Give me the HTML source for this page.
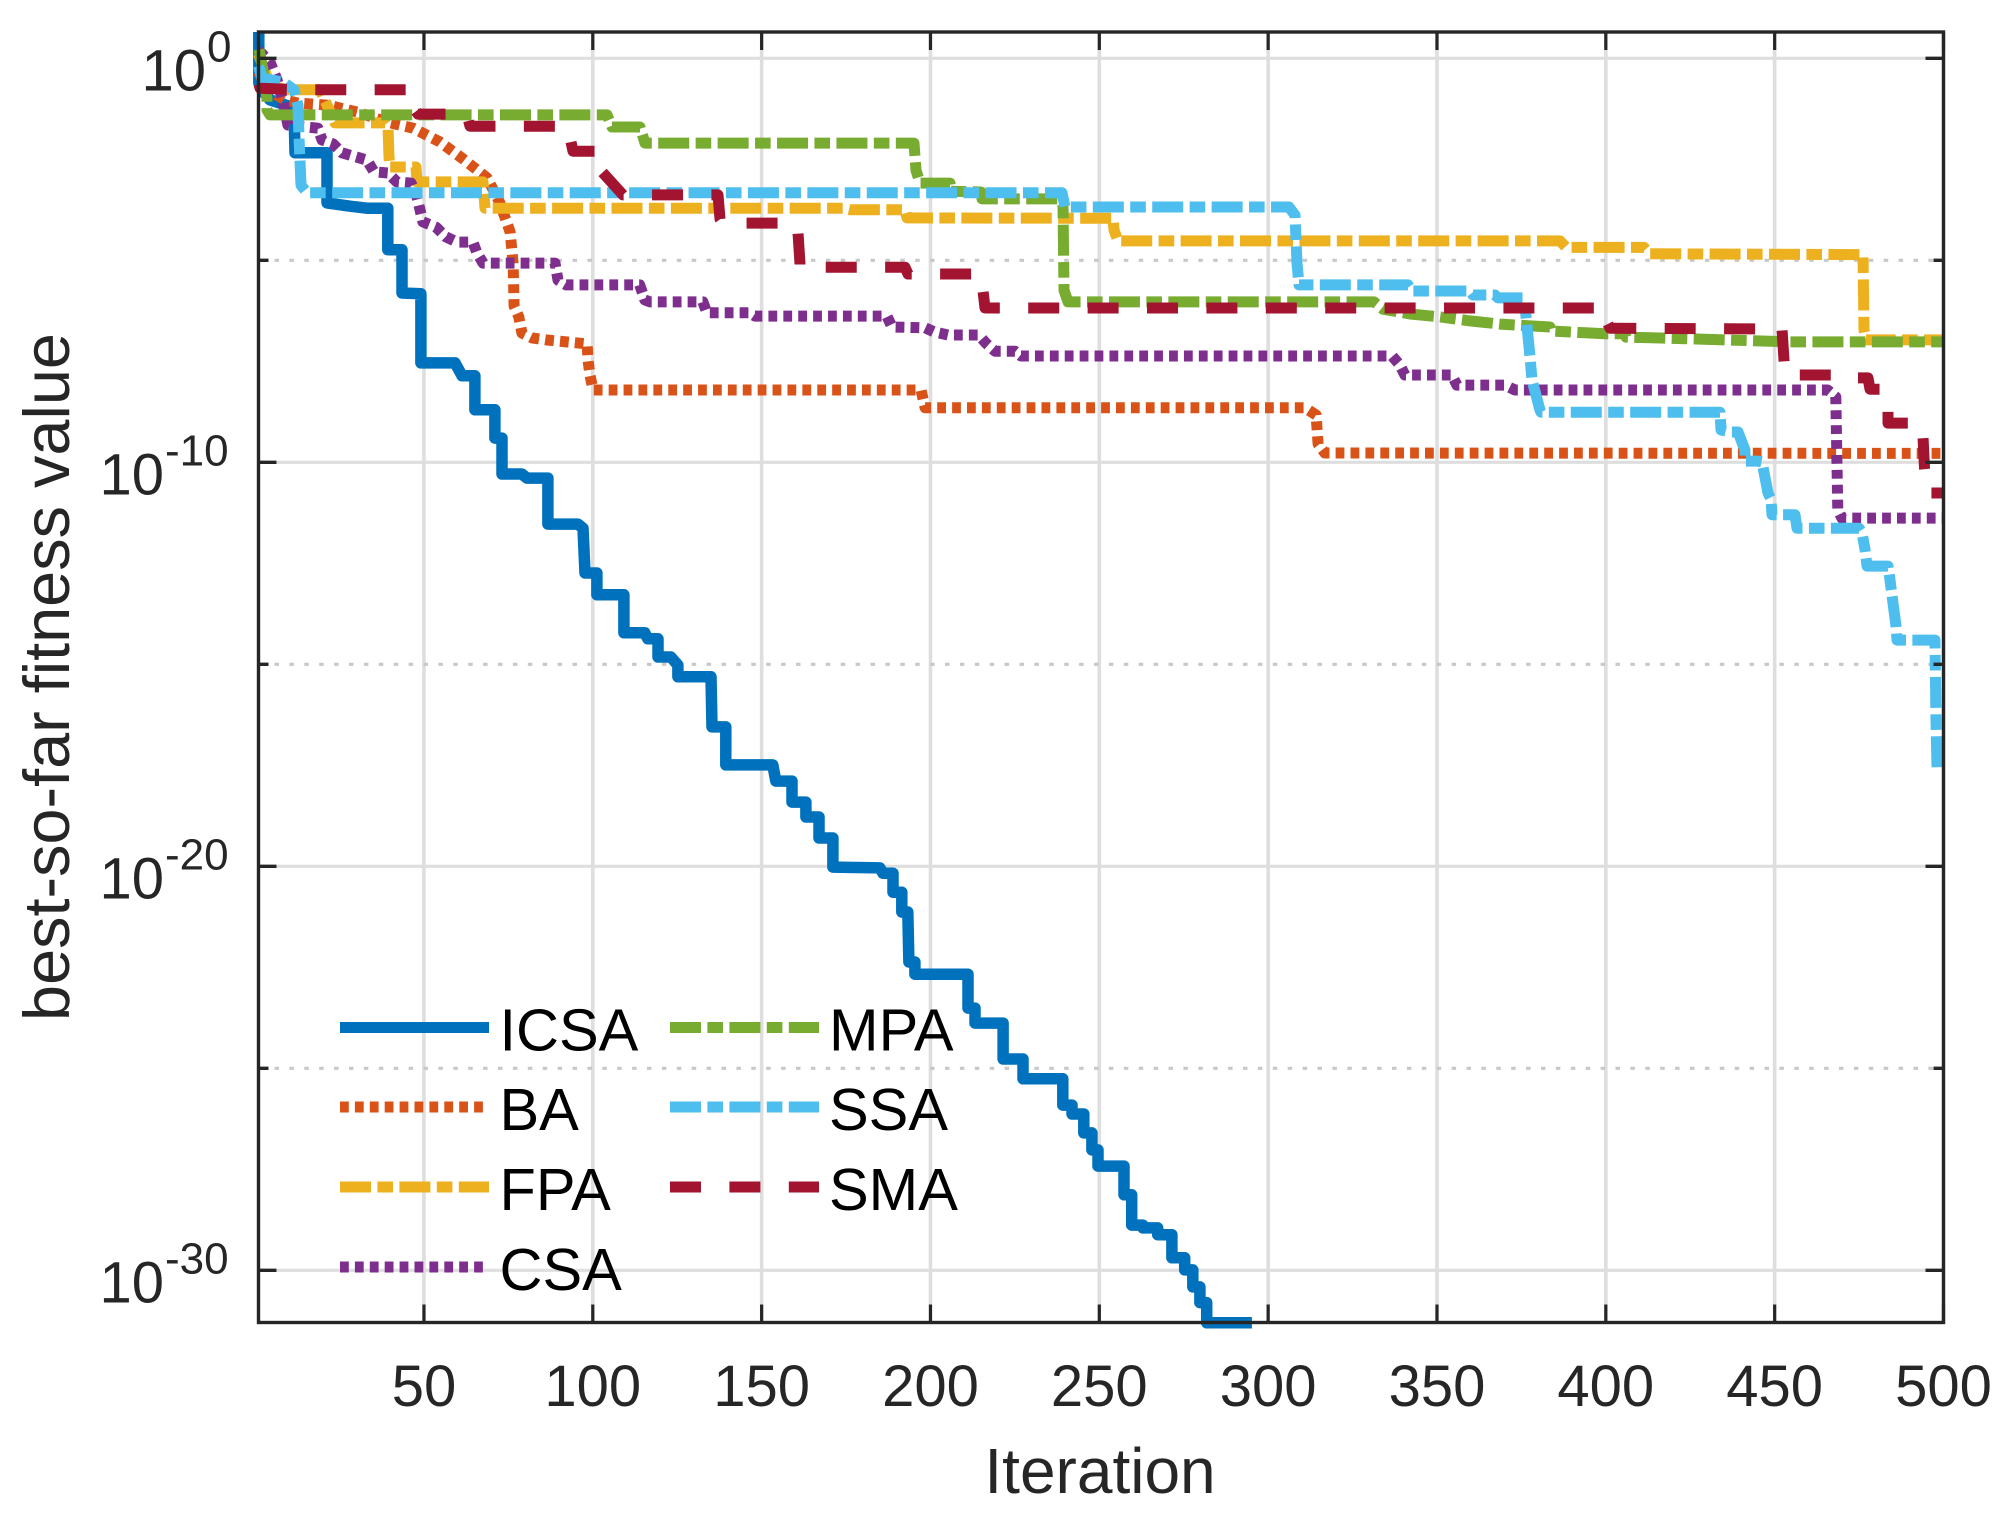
<!DOCTYPE html>
<html lang="en">
<head>
<meta charset="utf-8">
<title>Convergence curves</title>
<style>
html,body{margin:0;padding:0;background:#fff;}
svg{display:block;font-family:"Liberation Sans",Arial,sans-serif;}
</style>
</head>
<body>
<svg id="chart" xmlns="http://www.w3.org/2000/svg" width="2012" height="1516" viewBox="0 0 2012 1516">
  <rect x="0" y="0" width="2012" height="1516" fill="#ffffff"/>
  <g id="grid"></g>
  <g id="series"></g>
  <g id="axes"></g>
  <g id="legend"></g>
  <text x="1100" y="1493" font-size="64" fill="#262626" text-anchor="middle">Iteration</text>
  <text transform="translate(69,677) rotate(-90)" font-size="64.8" fill="#262626" text-anchor="middle">best-so-far fitness value</text>
</svg>
<script>
var xTicks = [50,100,150,200,250,300,350,400,450,500];
var yMajorExponents = [0,-10,-20,-30];
var yMinorExponents = [-5,-15,-25];
var seriesNames = ["ICSA","BA","FPA","CSA","MPA","SSA","SMA"];

var icsaIter = [1.1,1.1,2,4.4,7.4,11.5,11.8,21.3,21.3,28.1,33.1,39.3,39.3,43.5,43.5,49.1,49.1,59.2,61.3,65.1,65.1,71,71,73.1,73.1,79,80.5,86.7,86.7,95.6,97.1,97.7,101.2,101.2,109.2,109.2,115.4,116.3,119.3,119.3,123.1,125.2,125.2,135,135.3,139.4,139.4,153.3,154.2,159,159,163.1,163.1,167,167,171.1,171.1,185,185.9,188.9,188.9,191.5,191.5,193.3,193.6,195.4,195.4,211.1,211.1,213.2,213.2,221.5,221.5,227.4,227.4,239.2,239.2,241.9,241.9,245.4,245.4,247.8,247.8,249.6,249.6,257.3,257.3,259.6,259.6,262.9,262.9,267.3,267.3,271.5,271.5,275.3,275.3,277.7,277.7,279.8,279.8,281.8,281.8,295.2];
var icsaLog = [0.65,-0.61,-0.78,-1.03,-1.11,-1.23,-2.34,-2.34,-3.58,-3.66,-3.71,-3.71,-4.74,-4.74,-5.81,-5.83,-7.54,-7.54,-7.86,-7.86,-8.7,-8.7,-9.4,-9.4,-10.29,-10.29,-10.39,-10.39,-11.53,-11.53,-11.63,-12.74,-12.74,-13.28,-13.28,-14.22,-14.22,-14.37,-14.37,-14.82,-14.82,-15.02,-15.31,-15.31,-16.55,-16.55,-17.49,-17.49,-17.89,-17.89,-18.41,-18.41,-18.78,-18.78,-19.3,-19.3,-20.02,-20.04,-20.17,-20.17,-20.64,-20.64,-21.13,-21.13,-22.37,-22.37,-22.67,-22.67,-23.51,-23.51,-23.88,-23.88,-24.77,-24.77,-25.26,-25.26,-25.91,-25.91,-26.13,-26.13,-26.6,-26.6,-27.02,-27.02,-27.42,-27.42,-28.13,-28.13,-28.88,-28.88,-28.95,-28.95,-29.12,-29.12,-29.69,-29.69,-29.99,-29.99,-30.41,-30.41,-30.8,-30.8,-31.3,-31.3];

var baIter = [1,3.8,8.8,12.7,21.6,30.2,39.1,46.8,54.7,61.6,68.7,72.5,75.5,76.4,76.7,78.1,79,82,86.1,98.3,98.6,99.2,100.1,197.2,198.4,310.9,314.2,314.8,316.8,500];
var baLog = [-0.34,-0.78,-1.03,-1.11,-1.16,-1.33,-1.58,-1.73,-2.07,-2.49,-2.96,-3.58,-4.3,-5.07,-6.13,-6.4,-6.8,-6.92,-6.97,-7.07,-7.49,-7.86,-8.21,-8.21,-8.65,-8.65,-8.83,-9.55,-9.77,-9.78];

var fpaIter = [1,4.41,8.85,19.21,21.58,23.65,38.46,39.35,39.65,39.94,47.64,47.94,67.48,68.08,174.1,176.17,192.46,193.05,254.05,254.35,255.53,386.43,388.2,411.3,413.08,476.17,476.46,477.06,500];
var fpaLog = [0.11,-0.66,-0.78,-0.78,-1.21,-1.6,-1.6,-1.7,-2.44,-2.69,-2.69,-3.06,-3.06,-3.71,-3.71,-3.75,-3.75,-3.95,-3.96,-4.25,-4.52,-4.52,-4.68,-4.68,-4.84,-4.86,-6.72,-6.97,-6.97];

var csaIter = [1,4.4,6.5,8.3,9.7,18.6,19.8,23.1,25.7,33.1,35.2,39.3,42,46.2,47.9,49.7,53.6,56.5,59.8,64.5,65.7,67.5,88.8,89.7,92.1,113.9,115.4,116.9,132.6,133.8,146.5,148,187.1,188.6,198.4,201,205.2,214.3,216.4,219.1,225,226.8,336.7,339,340.5,354.4,355.9,370.1,373.1,465.7,468.1,468.7,469.9,500];
var csaLog = [0.2,-0.09,-0.54,-1.08,-1.65,-1.73,-2.02,-2.12,-2.34,-2.52,-2.81,-2.84,-3.06,-3.09,-3.43,-4.05,-4.18,-4.42,-4.55,-4.55,-4.82,-5.07,-5.07,-5.49,-5.61,-5.61,-5.98,-6.03,-6.03,-6.3,-6.3,-6.38,-6.38,-6.65,-6.67,-6.77,-6.85,-6.85,-7.05,-7.25,-7.25,-7.37,-7.37,-7.59,-7.84,-7.84,-8.09,-8.09,-8.21,-8.21,-8.38,-11.18,-11.38,-11.38];

var mpaIter = [1.15,2.33,3.52,3.52,4.41,104.21,105.69,113.98,115.46,195.12,195.71,196.89,205.77,206.07,214.96,215.25,237.76,239.24,239.54,240.73,331.35,334.02,342.02,350.9,359.79,368.67,383.47,383.77,399.76,405.69,405.99,427.9,454.55,500];
var mpaLog = [0.22,-0.29,-0.98,-1.28,-1.4,-1.4,-1.7,-1.7,-2.1,-2.1,-2.77,-3.09,-3.09,-3.29,-3.31,-3.48,-3.48,-3.63,-5.74,-6.03,-6.03,-6.21,-6.33,-6.4,-6.5,-6.58,-6.65,-6.75,-6.82,-6.82,-6.9,-6.95,-7.02,-7.02];

var ssaIter = [1,2.04,8.26,11.51,12.7,12.99,13.59,15.36,238.95,239.84,306.17,307.95,308.54,309.13,341.41,342.6,359.77,360.66,367.18,368.07,375.77,376.36,377.55,378.14,380.51,380.81,433.81,434.1,436.77,439.14,441.21,441.21,445.06,446.25,448.03,448.91,449.21,456.02,456.62,474.98,475.87,476.76,477.35,483.57,483.87,484.46,485.94,486.24,497.48,497.78,498.07];
var ssaLog = [-0.19,-0.49,-0.59,-0.78,-1.16,-1.95,-3.14,-3.33,-3.33,-3.68,-3.68,-3.88,-5.07,-5.61,-5.61,-5.76,-5.76,-5.86,-5.86,-5.93,-5.93,-6.38,-7.39,-7.96,-8.71,-8.76,-8.76,-9.2,-9.25,-9.25,-9.7,-9.97,-9.97,-9.99,-10.76,-10.91,-11.3,-11.3,-11.63,-11.63,-11.75,-12.15,-12.57,-12.57,-12.72,-13.11,-14.05,-14.4,-14.4,-16.38,-17.57];

var smaIter = [1.15,1.44,13.29,46.46,47.35,48.23,62.74,63.63,92.36,93.54,94.14,102.58,102.73,108.94,137.08,137.67,138.56,159.88,160.77,161.36,161.36,192.46,193.35,215.1,215.56,216.15,400.05,400.34,401.23,452.18,452.77,453.07,472.3,473.2,477.65,478.24,482.68,483.57,483.57,493.34,493.93,494.38,495.12,500];
var smaLog = [-0.64,-0.74,-0.78,-0.78,-1.28,-1.38,-1.38,-1.68,-1.68,-2.07,-2.3,-2.3,-2.81,-3.38,-3.38,-3.98,-4.08,-4.08,-4.32,-5.09,-5.17,-5.17,-5.34,-5.34,-5.76,-6.18,-6.18,-6.53,-6.68,-6.7,-7.47,-7.84,-7.84,-7.91,-7.91,-8.19,-8.19,-8.71,-9.03,-9.03,-9.37,-10.14,-10.76,-10.76];

var NS = "http://www.w3.org/2000/svg";
var plotLeft = 258.5, plotRight = 1943.5, plotTop = 32, plotBottom = 1322.5;
function xScale(it){ return plotLeft + (it - 1) * (plotRight - plotLeft) / 499; }
function yScale(exp){ return 58.3 - exp * 40.4; }

function create(parent, tag, attrs, text){
  var el = document.createElementNS(NS, tag);
  for (var k in attrs) el.setAttribute(k, attrs[k]);
  if (text !== undefined) el.textContent = text;
  parent.appendChild(el);
  return el;
}

var gridG = document.getElementById("grid");
var seriesG = document.getElementById("series");
var axesG = document.getElementById("axes");
var legendG = document.getElementById("legend");
var axisColor = "#262626";

xTicks.forEach(function(t){
  var g = create(gridG, "line", {x1:xScale(t), x2:xScale(t), y1:plotTop, y2:plotBottom, stroke:"#dedede", "stroke-width":3.6});
  
  
});
yMajorExponents.forEach(function(e){
  var g = create(gridG, "line", {x1:plotLeft, x2:plotRight, y1:yScale(e), y2:yScale(e), stroke:"#dedede", "stroke-width":3.2});
  
  
});
yMinorExponents.forEach(function(e){
  var g = create(gridG, "line", {x1:plotLeft + 16, x2:plotRight, y1:yScale(e), y2:yScale(e), stroke:"#c8c8c8", "stroke-width":3.2, "stroke-dasharray":"4.5 10.4"});
  
  
});

var styleLongDot = "31 6.4 15.6 6.4";
var styleDot = "8.8 6.1";
var styleDash = "31 28.4";
var seriesDefs = [
  {name:"icsa", iter:icsaIter, vals:icsaLog, color:"#0072BD", dash:"none", width:11.5},
  {name:"ba",   iter:baIter,   vals:baLog,   color:"#D95319", dash:styleDot, width:11},
  {name:"fpa",  iter:fpaIter,  vals:fpaLog,  color:"#EDB120", dash:styleLongDot, width:11},
  {name:"csa",  iter:csaIter,  vals:csaLog,  color:"#7E2F8E", dash:styleDot, width:11},
  {name:"mpa",  iter:mpaIter,  vals:mpaLog,  color:"#77AC30", dash:styleLongDot, width:11},
  {name:"ssa",  iter:ssaIter,  vals:ssaLog,  color:"#4DBEEE", dash:styleLongDot, width:11},
  {name:"sma",  iter:smaIter,  vals:smaLog,  color:"#A2142F", dash:styleDash, width:11}
];
seriesDefs.forEach(function(s){
  var pts = s.iter.map(function(it, i){ return xScale(it).toFixed(1) + "," + yScale(s.vals[i]).toFixed(1); }).join(" ");
  var attrs = {points:pts, fill:"none", stroke:s.color, "stroke-width":s.width, "stroke-linejoin":"round", "stroke-linecap":"butt"};
  if (s.dash !== "none") attrs["stroke-dasharray"] = s.dash;
  var line = create(seriesG, "polyline", attrs);
  
  
});

var frame = create(axesG, "rect", {x:plotLeft, y:plotTop, width:plotRight - plotLeft, height:plotBottom - plotTop, fill:"none", stroke:axisColor, "stroke-width":3.4});



xTicks.forEach(function(t){
  var x = xScale(t);
  var tb = create(axesG, "line", {x1:x, x2:x, y1:plotBottom, y2:plotBottom - 18, stroke:axisColor, "stroke-width":3.2});
  
  
  var tt = create(axesG, "line", {x1:x, x2:x, y1:plotTop, y2:plotTop + 18, stroke:axisColor, "stroke-width":3.2});
  
  
  var lb = create(axesG, "text", {x:x, y:1406, "font-size":58, fill:axisColor, "text-anchor":"middle"}, String(t));
  
  
});

yMajorExponents.forEach(function(e){
  var y = yScale(e);
  var tl = create(axesG, "line", {x1:plotLeft, x2:plotLeft + 18, y1:y, y2:y, stroke:axisColor, "stroke-width":3.4});
  
  
  var tr = create(axesG, "line", {x1:plotRight, x2:plotRight - 18, y1:y, y2:y, stroke:axisColor, "stroke-width":3.4});
  
  
  var base = e === 0 ? 206 : 164;
  var lb = create(axesG, "text", {x:base, y:y + 32, "font-size":58, fill:axisColor, "text-anchor":"end"}, "10");
  
  
  var sp = create(axesG, "text", {x:base + 1, y:y + 3, "font-size":44, fill:axisColor}, String(e));
  
  
});
yMinorExponents.forEach(function(e){
  var y = yScale(e);
  var tl = create(axesG, "line", {x1:plotLeft, x2:plotLeft + 10, y1:y, y2:y, stroke:axisColor, "stroke-width":3.4});
  
  
  var tr = create(axesG, "line", {x1:plotRight, x2:plotRight - 10, y1:y, y2:y, stroke:axisColor, "stroke-width":3.4});
  
  
});

var legendColumnX = [340, 670];
var legendTextX = [499.5, 829];
var legendRowY = [1027.5, 1107, 1187, 1267];
seriesDefs.forEach(function(s, i){
  var col = i < 4 ? 0 : 1;
  var row = i < 4 ? i : i - 4;
  var attrs = {x1:legendColumnX[col], x2:legendColumnX[col] + 149, y1:legendRowY[row], y2:legendRowY[row], stroke:s.color, "stroke-width":11};
  if (s.dash !== "none") attrs["stroke-dasharray"] = s.dash;
  var ln = create(legendG, "line", attrs);
  
  
  var tx = create(legendG, "text", {x:legendTextX[col], y:legendRowY[row] + 23, "font-size":59.5, fill:"#000000"}, seriesNames[i]);
  
  
});
</script>
</body>
</html>
